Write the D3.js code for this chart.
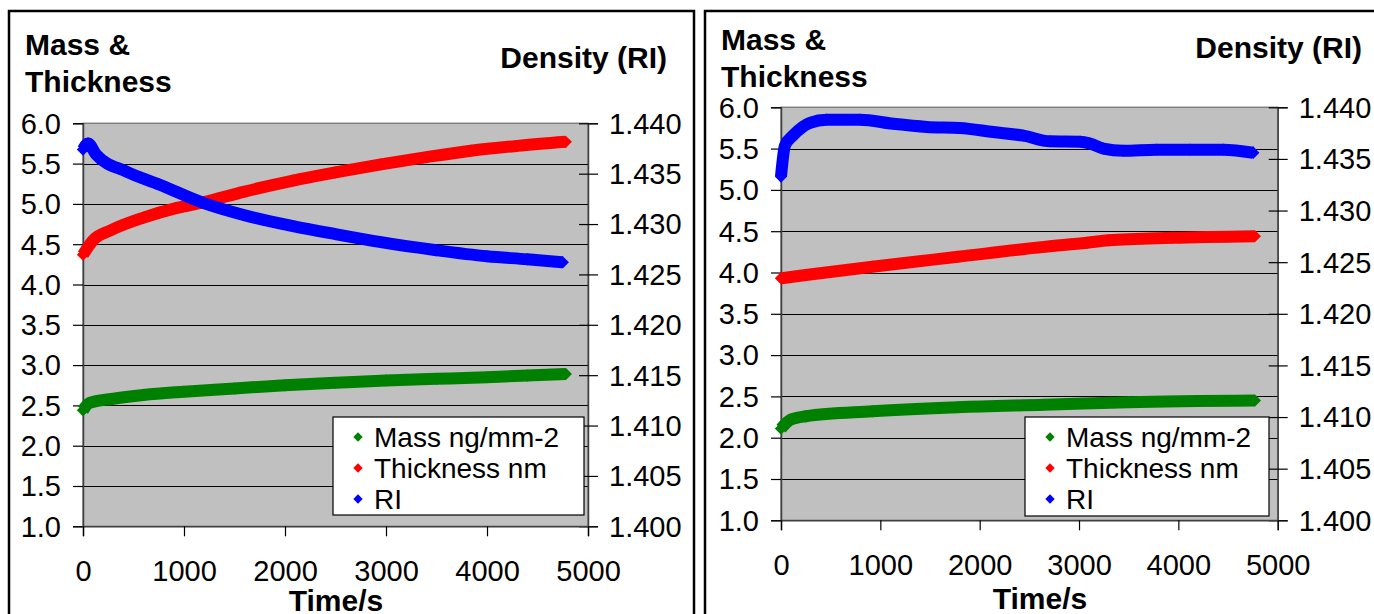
<!DOCTYPE html>
<html>
<head>
<meta charset="utf-8">
<script src="https://cdn.jsdelivr.net/npm/d3@7"></script>
<style>
    html, body { margin: 0; padding: 0; background: #fff; }
    svg { display: block; font-family: "Liberation Sans", Arial, sans-serif; }
</style>
</head>
<body>
<svg id="chart" width="1374" height="614"></svg>
<script>
"use strict";

// shared axis ticks
var timeTicks = [0, 1000, 2000, 3000, 4000, 5000];
var massTicks = [1.0, 1.5, 2.0, 2.5, 3.0, 3.5, 4.0, 4.5, 5.0, 5.5, 6.0];
var riTicks = [1.400, 1.405, 1.410, 1.415, 1.420, 1.425, 1.430, 1.435, 1.440];

var seriesNames = ["Mass ng/mm-2", "Thickness nm", "RI"];
var seriesColors = ["#008000", "#ff0000", "#0000ff"];

// left chart : [time s, value]
var massA = [[0, 2.44], [66, 2.53], [285, 2.58], [600, 2.63], [1000, 2.67], [1500, 2.71],
    [2000, 2.75], [2500, 2.78], [3000, 2.81], [3500, 2.83], [4000, 2.85], [4400, 2.87], [4780, 2.89]];
var thickA = [[0, 4.37], [100, 4.55], [270, 4.67], [600, 4.83], [930, 4.95], [1190, 5.02],
    [1590, 5.15], [2080, 5.29], [2500, 5.39], [2950, 5.49], [3400, 5.58], [3840, 5.66],
    [4300, 5.72], [4780, 5.77]];
var riA = [[0, 1.4374], [50, 1.4380], [130, 1.4369], [430, 1.4352], [760, 1.4339], [1190, 1.4321],
    [1590, 1.4309], [2080, 1.4298], [2500, 1.4290], [2950, 1.4282], [3500, 1.4274], [4000, 1.4268],
    [4400, 1.4265], [4750, 1.4262]];

// right chart
var massB = [[0, 2.11], [100, 2.22], [250, 2.26], [920, 2.32], [1780, 2.37], [2650, 2.40],
    [3500, 2.43], [4770, 2.45]];
var thickB = [[0, 3.93], [250, 3.97], [920, 4.07], [1780, 4.19], [2650, 4.31], [3080, 4.36],
    [3300, 4.39], [3940, 4.42], [4770, 4.44]];
var riB = [[0, 1.4333], [40, 1.4363], [124, 1.4373], [292, 1.4385], [460, 1.4388], [795, 1.4388],
    [1130, 1.4384], [1467, 1.4381], [1800, 1.4380], [2137, 1.4376], [2440, 1.43725], [2708, 1.4367],
    [3010, 1.43667], [3110, 1.4365], [3245, 1.4360], [3446, 1.4358], [3782, 1.4359], [4117, 1.4359],
    [4452, 1.4359], [4754, 1.4356]];

var panels = [
    {
        frame: [9, 11, 685, 620],
        plot: { left: 83, right: 588, top: 123.3, bottom: 526.3 },
        series: [massA, thickA, riA],
        titleLeft: { x: 25, y1: 55, y2: 92 },
        titleRight: { x: 667, y: 68 },
        xTitle: { x: 336, y: 611 },
        legend: { x: 333, y: 417, w: 251, h: 98 }
    },
    {
        frame: [705, 11, 700, 620],
        plot: { left: 781, right: 1277.7, top: 107.3, bottom: 520.3 },
        series: [massB, thickB, riB],
        titleLeft: { x: 721, y1: 50, y2: 87 },
        titleRight: { x: 1362, y: 58 },
        xTitle: { x: 1040, y: 609 },
        legend: { x: 1025, y: 417, w: 244, h: 99 }
    }
];

var svg = d3.select("#chart");
var diamond = d3.symbol().type(d3.symbolSquare).size(76);

function drawPanel(p) {
    var g = svg.append("g");
    var pl = p.plot;

    var x = d3.scaleLinear().domain([0, 5000]).range([pl.left, pl.right]);
    var y = d3.scaleLinear().domain([1, 6]).range([pl.bottom, pl.top]);
    var y2 = d3.scaleLinear().domain([1.400, 1.440]).range([pl.bottom, pl.top]);

    // outer frame
    g.append("rect")
        .attr("x", p.frame[0]).attr("y", p.frame[1])
        .attr("width", p.frame[2]).attr("height", p.frame[3])
        .attr("fill", "none").attr("stroke", "#000").attr("stroke-width", 2.5);

    // plot area
    g.append("rect")
        .attr("x", pl.left).attr("y", pl.top)
        .attr("width", pl.right - pl.left).attr("height", pl.bottom - pl.top)
        .attr("fill", "#c0c0c0").attr("stroke", "#808080").attr("stroke-width", 1.5);

    // gridlines
    g.append("g").selectAll("line")
        .data(massTicks.slice(1, -1))
        .enter().append("line")
        .attr("x1", pl.left).attr("x2", pl.right)
        .attr("y1", function (d) { return Math.round(y(d)) + 0.5; })
        .attr("y2", function (d) { return Math.round(y(d)) + 0.5; })
        .attr("stroke", "#000").attr("stroke-width", 1.2);

    var fontTick = "29px";

    // left axis
    var ax = d3.axisLeft(y).tickValues(massTicks).tickSize(10).tickPadding(12)
        .tickFormat(d3.format(".1f"));
    var gl = g.append("g").attr("transform", "translate(" + pl.left + ",0)").call(ax);

    // right axis (ticks cross the axis line)
    var ar = d3.axisRight(y2).tickValues(riTicks).tickSize(10).tickPadding(11)
        .tickFormat(d3.format(".3f"));
    var gr = g.append("g").attr("transform", "translate(" + pl.right + ",0)").call(ar);
    gr.selectAll(".tick line").attr("x1", -9);

    // bottom axis
    var ab = d3.axisBottom(x).tickValues(timeTicks).tickSize(10).tickPadding(24)
        .tickFormat(d3.format("d"));
    var gb = g.append("g").attr("transform", "translate(0," + pl.bottom + ")").call(ab);

    [gl, gr, gb].forEach(function (a) {
        a.select(".domain").attr("stroke", "#404040").attr("stroke-width", 1.5);
        a.selectAll(".tick line").attr("stroke", "#000").attr("stroke-width", 1.2);
        a.selectAll(".tick text")
            .attr("font-size", fontTick)
            .attr("font-family", "'Liberation Sans', Arial, sans-serif")
            .attr("fill", "#000");
    });
    gl.selectAll(".tick text").attr("dy", "0.34em");
    gr.selectAll(".tick text").attr("dy", "0.34em");
    gb.selectAll(".tick text").attr("dy", "0.71em");

    // series: thick band + diamond markers, RI on the right scale
    p.series.forEach(function (data, i) {
        var yy = i === 2 ? y2 : y;
        var sg = g.append("g");
        sg.append("path")
            .attr("d", d3.line()
                .x(function (d) { return x(d[0]); })
                .y(function (d) { return yy(d[1]); })
                .curve(d3.curveMonotoneX)(data))
            .attr("fill", "none")
            .attr("stroke", seriesColors[i])
            .attr("stroke-width", 12)
            .attr("stroke-linejoin", "round");
        sg.selectAll("path.m")
            .data(data)
            .enter().append("path")
            .attr("class", "m")
            .attr("d", diamond)
            .attr("transform", function (d) {
                return "translate(" + x(d[0]) + "," + yy(d[1]) + ") rotate(45)";
            })
            .attr("fill", seriesColors[i]);
    });

    // axis titles
    var tl = g.append("text")
        .attr("font-size", "30px").attr("font-weight", "bold").attr("fill", "#000");
    tl.append("tspan").attr("x", p.titleLeft.x).attr("y", p.titleLeft.y1).text("Mass &");
    tl.append("tspan").attr("x", p.titleLeft.x).attr("y", p.titleLeft.y2).text("Thickness");

    g.append("text")
        .attr("x", p.titleRight.x).attr("y", p.titleRight.y)
        .attr("text-anchor", "end")
        .attr("font-size", "30px").attr("font-weight", "bold")
        .text("Density (RI)");

    g.append("text")
        .attr("x", p.xTitle.x).attr("y", p.xTitle.y)
        .attr("text-anchor", "middle")
        .attr("font-size", "30px").attr("font-weight", "bold")
        .text("Time/s");

    // legend
    var lg = p.legend;
    var leg = g.append("g").attr("transform", "translate(" + lg.x + "," + lg.y + ")");
    leg.append("rect")
        .attr("width", lg.w).attr("height", lg.h)
        .attr("fill", "#fff").attr("stroke", "#000").attr("stroke-width", 1.2);
    var item = leg.selectAll("g.item")
        .data(seriesNames)
        .enter().append("g")
        .attr("class", "item")
        .attr("transform", function (d, i) { return "translate(0," + (20 + i * 31) + ")"; });
    item.append("path")
        .attr("d", d3.symbol().type(d3.symbolSquare).size(44))
        .attr("transform", "translate(25,0) rotate(45)")
        .attr("fill", function (d, i) { return seriesColors[i]; });
    item.append("text")
        .attr("x", 41).attr("y", 10)
        .attr("font-size", "28px")
        .text(function (d) { return d; });
}

panels.forEach(drawPanel);
</script>
</body>
</html>
